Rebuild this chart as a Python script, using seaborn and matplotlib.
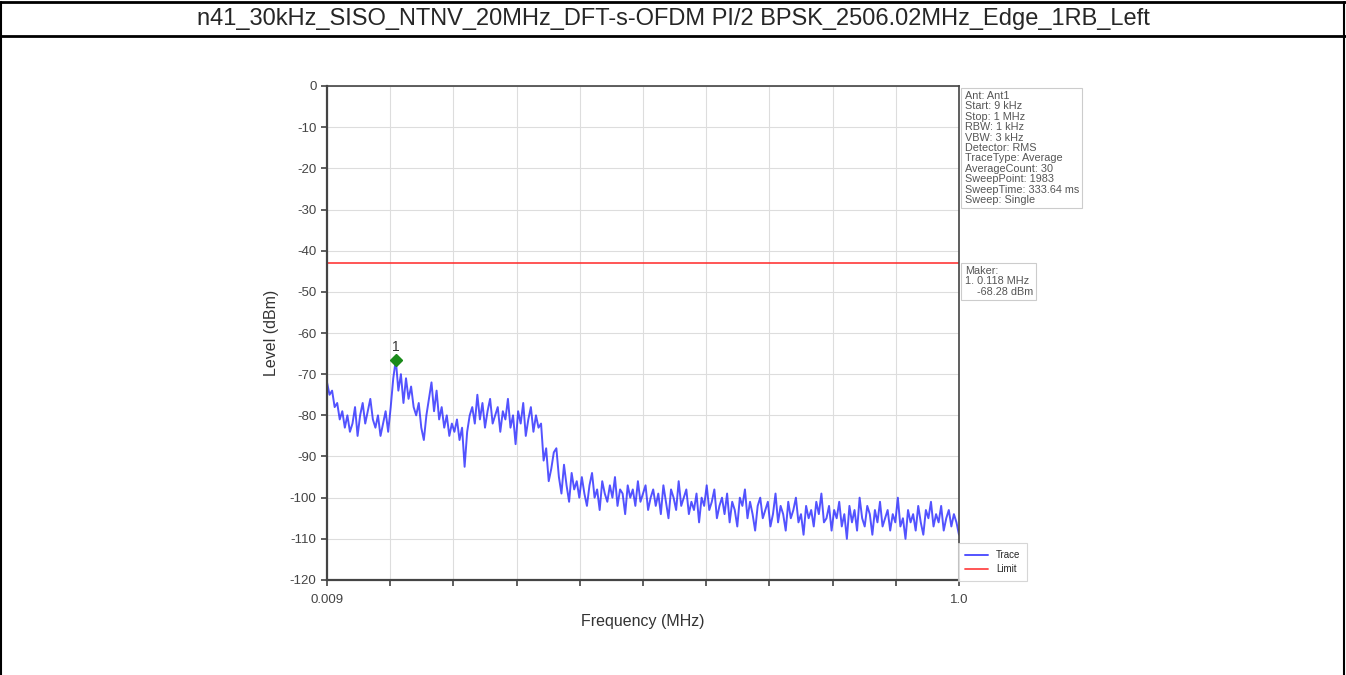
#!/usr/bin/env python3
# Spurious emission plot (9 kHz - 1 MHz) for the n41 edge 1RB left case

import numpy as np
import pandas as pd
import seaborn as sns
import matplotlib.pyplot as plt
from matplotlib.lines import Line2D

sns.set_style("whitegrid")
plt.rcParams['font.family'] = ['Liberation Sans', 'DejaVu Sans']
plt.rcParams['axes.unicode_minus'] = False

TITLE = "n41_30kHz_SISO_NTNV_20MHz_DFT-s-OFDM PI/2 BPSK_2506.02MHz_Edge_1RB_Left"

START_MHZ = 0.009
STOP_MHZ = 1.0
LIMIT_DBM = -43.0
MARKER_MHZ = 0.118

# trace level (dBm), evenly spaced from start to stop
level = [
    -72, -75, -74, -78, -77, -81, -79, -83, -80, -84,
    -82, -78, -85, -80, -77, -82, -79, -76, -81, -83,
    -80, -85, -82, -79, -84, -78, -71, -66.5, -74, -70,
    -77, -71, -76, -73, -78, -80, -77, -83, -86, -80,
    -76, -72, -79, -74, -81, -78, -83, -80, -85, -82,
    -84, -81, -86, -83, -92.5, -84, -80, -78, -82, -75,
    -81, -77, -83, -79, -76, -82, -80, -78, -84, -79,
    -81, -76, -83, -80, -87, -79, -82, -77, -85, -81,
    -78, -84, -80, -83, -82, -91, -88, -96, -93, -89,
    -88, -95, -99, -92, -97, -101, -94, -98, -96, -100,
    -95, -99, -102, -97, -94, -100, -98, -103, -96, -99,
    -101, -97, -100, -95, -102, -98, -99, -104, -97, -100,
    -98, -102, -96, -101, -99, -97, -103, -100, -98, -102,
    -99, -104, -97, -101, -105, -98, -100, -103, -96, -102,
    -100, -98, -104, -101, -103, -99, -106, -100, -102, -97,
    -103, -101, -98, -105, -102, -100, -104, -99, -106, -101,
    -103, -107, -100, -102, -98, -105, -101, -104, -108, -102,
    -100, -105, -103, -101, -107, -104, -99, -106, -102, -104,
    -108, -101, -105, -103, -100, -106, -104, -109, -102, -105,
    -103, -107, -101, -104, -99, -106, -105, -102, -108, -103,
    -105, -101, -107, -104, -110, -102, -106, -103, -108, -100,
    -105, -107, -102, -104, -109, -103, -106, -101, -107, -105,
    -103, -108, -104, -106, -100, -107, -105, -110, -103, -106,
    -104, -108, -102, -106, -109, -103, -105, -101, -107, -104,
    -106, -102, -108, -105, -103, -107, -104, -106, -109,
]

info_lines = [
    "Ant: Ant1", "Start: 9 kHz", "Stop: 1 MHz", "RBW: 1 kHz", "VBW: 3 kHz",
    "Detector: RMS", "TraceType: Average", "AverageCount: 30",
    "SweepPoint: 1983", "SweepTime: 333.64 ms", "Sweep: Single",
]
marker_lines = ["Maker:", "1. 0.118 MHz", "    -68.28 dBm"]

freq = np.linspace(START_MHZ, STOP_MHZ, len(level))
df = pd.DataFrame({"freq": freq, "level": level})

fig = plt.figure(figsize=(13.46, 6.75), dpi=100)

# table-like frame around the figure
for y in (1 - 2 / 675, 1 - 36 / 675):
    fig.add_artist(Line2D([0, 1], [y, y], color="black", lw=2))
for x in (1 / 1346, 1 - 2 / 1346):
    fig.add_artist(Line2D([x, x], [0, 1 - 2 / 675], color="black", lw=1.5))
fig.text(0.5, 1 - 19 / 675, TITLE, ha="center", va="center", fontsize=17)

ax = fig.add_axes([327 / 1346, 1 - 580 / 675, 632 / 1346, 494 / 675])
ax.set_facecolor("white")

sns.lineplot(data=df, x="freq", y="level", ax=ax, color="#1a1aff", lw=1.4,
             alpha=0.75, estimator=None, label="Trace")
ax.axhline(LIMIT_DBM, color="#ff3333", lw=1.3, alpha=0.9, label="Limit")

mi = int(np.argmin(np.abs(freq - MARKER_MHZ)))
ax.plot(freq[mi], level[mi], marker="D", color="#1a8a1a", ms=6, zorder=5)
ax.annotate("1", (freq[mi], level[mi]), xytext=(0, 4), textcoords="offset points",
            ha="center", va="bottom", fontsize=10, color="#333333")

ax.set_xlim(START_MHZ, STOP_MHZ)
ax.set_ylim(-120, 0)
ax.set_yticks(np.arange(-120, 1, 10))
xt = np.linspace(START_MHZ, STOP_MHZ, 11)
ax.set_xticks(xt)
ax.set_xticklabels(["0.009"] + [""] * 9 + ["1.0"])
ax.grid(True, color="#dddddd", lw=0.8)
ax.tick_params(axis="both", labelsize=9.5, colors="#444444", length=4,
               width=1.2, direction="out", left=True, bottom=True)
ax.tick_params(axis="x", pad=6)
for s in ax.spines.values():
    s.set_visible(True)
    s.set_color("#444444")
ax.spines["left"].set_linewidth(1.6)
ax.spines["bottom"].set_linewidth(1.6)
ax.spines["top"].set_linewidth(1.2)
ax.spines["right"].set_linewidth(1.2)

ax.set_xlabel("Frequency (MHz)", fontsize=11.5, color="#333333", labelpad=6)
ax.set_ylabel("Level (dBm)", fontsize=11.5, color="#333333", labelpad=8)

box = dict(facecolor="white", edgecolor="#cccccc", lw=0.8, boxstyle="square,pad=0.3")
ax.text(1.009, 0.99, "\n".join(info_lines), transform=ax.transAxes, fontsize=7.8,
        va="top", ha="left", color="#555555", linespacing=1.05, bbox=box)
ax.text(1.009, 0.636, "\n".join(marker_lines), transform=ax.transAxes, fontsize=7.8,
        va="top", ha="left", color="#555555", linespacing=1.05, bbox=box)

leg = ax.legend(loc="lower left", bbox_to_anchor=(1.0, 0.0), fontsize=7,
                frameon=True, handlelength=2.4, borderaxespad=0.2,
                labelspacing=0.4)
leg.get_frame().set_edgecolor("#cccccc")
leg.get_frame().set_linewidth(0.8)
leg.get_frame().set_boxstyle("square")

fig.savefig("out.png", dpi=100)
